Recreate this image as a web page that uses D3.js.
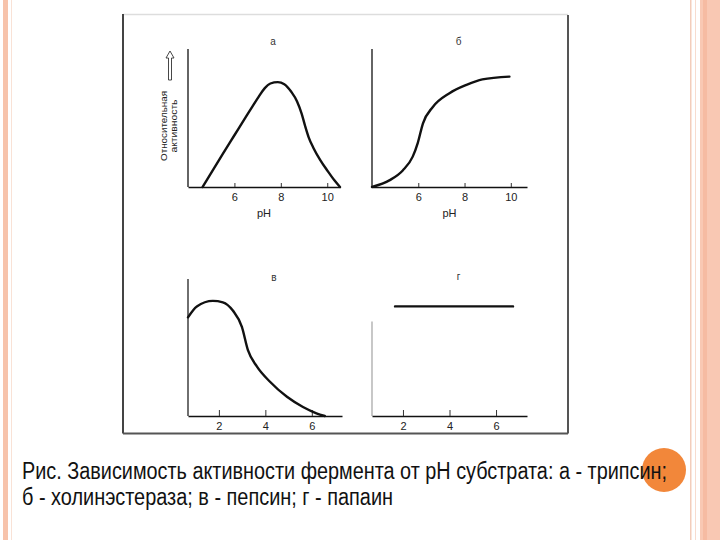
<!DOCTYPE html>
<html>
<head>
<meta charset="utf-8">
<script src="https://cdn.jsdelivr.net/npm/d3@7"></script>
<style>
  body { margin: 0; background: #ffffff; }
  svg { display: block; }
</style>
</head>
<body>
<div id="chart"></div>
<script>
// curve data (pH, relative activity)
const phA = [4.63, 5.5, 6.0, 6.5, 6.8, 7.05, 7.3, 7.55, 7.87, 8.15, 8.45, 8.7, 8.9, 9.05, 9.2, 9.4, 9.7, 10.0, 10.3, 10.55];
const actA = [0, 0.24, 0.375, 0.51, 0.59, 0.655, 0.715, 0.75, 0.76, 0.745, 0.69, 0.62, 0.53, 0.44, 0.36, 0.285, 0.195, 0.12, 0.05, 0];

const phB = [4.0, 4.77, 5.33, 5.76, 5.98, 6.2, 6.63, 7.35, 8.08, 8.77, 9.94];
const actB = [0, 0.05, 0.12, 0.22, 0.32, 0.46, 0.58, 0.68, 0.74, 0.78, 0.8];

const phV = [0.67, 1.05, 1.74, 2.17, 2.6, 2.99, 3.25, 3.64, 4.2, 4.93, 5.62, 6.2, 6.56];
const actV = [0.72, 0.8, 0.84, 0.83, 0.77, 0.65, 0.48, 0.36, 0.25, 0.14, 0.066, 0.02, 0];

const phG = [1.66, 6.73];
const actG = [0.8, 0.8];

const ticksTop = [6, 8, 10];
const ticksBottom = [2, 4, 6];
const titles = ["а", "б", "в", "г"];
const xLabel = "pH";
const yLabel = ["Относительная", "активность"];
const caption = [
  "Рис. Зависимость активности фермента от рН субстрата: а - трипсин;",
  "б - холинэстераза; в - пепсин; г - папаин"
];

const width = 720, height = 540;

const svg = d3.select("#chart").append("svg")
  .attr("width", width)
  .attr("height", height);

// slide decoration: peach borders
svg.append("rect").attr("x", 3).attr("y", 0).attr("width", 5).attr("height", height).attr("fill", "#f7c3ab");
svg.append("rect").attr("x", 11).attr("y", 0).attr("width", 1).attr("height", height).attr("fill", "#f9e2d6");
svg.append("rect").attr("x", 690).attr("y", 0).attr("width", 1.5).attr("height", height).attr("fill", "#f3cdbb");
svg.append("rect").attr("x", 695).attr("y", 0).attr("width", 1).attr("height", height).attr("fill", "#f7dccf");
svg.append("rect").attr("x", 700).attr("y", 0).attr("width", 20).attr("height", height).attr("fill", "#f9c8b3");
svg.append("rect").attr("x", 703).attr("y", 0).attr("width", 4).attr("height", height).attr("fill", "#f6bba2");

// picture frame
svg.append("line").attr("x1", 123).attr("x2", 568).attr("y1", 14.5).attr("y2", 14.5)
  .attr("stroke", "#dddddd").attr("stroke-width", 1.5);
svg.append("line").attr("x1", 123).attr("x2", 123).attr("y1", 14).attr("y2", 433.5)
  .attr("stroke", "#444444").attr("stroke-width", 2);
svg.append("line").attr("x1", 568).attr("x2", 568).attr("y1", 15).attr("y2", 433.5)
  .attr("stroke", "#555555").attr("stroke-width", 2);
svg.append("line").attr("x1", 123).attr("x2", 568).attr("y1", 433.5).attr("y2", 433.5)
  .attr("stroke", "#555555").attr("stroke-width", 2);

const panels = [
  { ph: phA, act: actA, dom: [4, 10.55], rx: [188, 340], ry: [187, 49], yTop: 1, ticks: ticksTop, title: titles[0], titleY: 45, showX: true, yColor: "#111" },
  { ph: phB, act: actB, dom: [4, 10.7], rx: [372, 527], ry: [187, 49], yTop: 1, ticks: ticksTop, title: titles[1], titleY: 45, showX: true, yColor: "#111" },
  { ph: phV, act: actV, dom: [0.67, 7.3], rx: [188, 342], ry: [416, 279], yTop: 1, ticks: ticksBottom, title: titles[2], titleY: 281, showX: false, yColor: "#222" },
  { ph: phG, act: actG, dom: [0.67, 7.33], rx: [372, 527], ry: [416, 279], yTop: 0.69, ticks: ticksBottom, title: titles[3], titleY: 280, showX: false, yColor: "#aaaaaa" }
];

panels.forEach((p) => {
  const x = d3.scaleLinear().domain(p.dom).range(p.rx);
  const y = d3.scaleLinear().domain([0, 1]).range(p.ry);
  const g = svg.append("g");

  // y axis (plain line)
  g.append("line")
    .attr("x1", x(p.dom[0])).attr("x2", x(p.dom[0]))
    .attr("y1", y(0)).attr("y2", y(p.yTop))
    .attr("stroke", p.yColor).attr("stroke-width", 1.3);

  // x axis with upward ticks
  const axis = g.append("g")
    .attr("transform", `translate(0,${y(0)})`)
    .call(d3.axisBottom(x)
      .tickValues(p.ticks)
      .tickSizeInner(p.showX ? -4 : -6)
      .tickSizeOuter(0)
      .tickPadding(6)
      .tickFormat(d3.format("d")));
  axis.select(".domain").attr("stroke", "#111").attr("stroke-width", 1.3);
  axis.selectAll(".tick line").attr("stroke", "#333").attr("stroke-width", 1);
  axis.selectAll(".tick text")
    .attr("fill", "#222")
    .style("font-family", "'Liberation Sans', Arial, sans-serif")
    .style("font-size", "11px");

  if (p.showX) {
    g.append("text")
      .attr("x", d3.mean(p.rx))
      .attr("y", y(0) + 30)
      .attr("text-anchor", "middle")
      .attr("fill", "#222")
      .style("font-family", "'Liberation Sans', Arial, sans-serif")
      .style("font-size", "11px")
      .text(xLabel);
  }

  g.append("text")
    .attr("x", d3.mean(p.rx) + 9)
    .attr("y", p.titleY)
    .attr("text-anchor", "middle")
    .attr("fill", "#333")
    .style("font-family", "'Liberation Sans', Arial, sans-serif")
    .style("font-size", "10px")
    .text(p.title);

  const pts = p.ph.map((v, i) => [v, p.act[i]]);
  const line = d3.line()
    .x((d) => x(d[0]))
    .y((d) => y(d[1]))
    .curve(d3.curveMonotoneX);

  g.append("path")
    .datum(pts)
    .attr("d", line)
    .attr("fill", "none")
    .attr("stroke", "#111")
    .attr("stroke-width", 2.4)
    .attr("stroke-linecap", "round");
});

// y axis label of panel a (rotated, two lines)
const yl = svg.append("g").attr("transform", "translate(167,126) rotate(-90)");
yl.selectAll("text")
  .data(yLabel)
  .enter()
  .append("text")
  .attr("x", 0)
  .attr("y", (d, i) => i * 10)
  .attr("text-anchor", "middle")
  .attr("fill", "#222")
  .attr("textLength", (d, i) => (i === 0 ? 70 : 53))
  .attr("lengthAdjust", "spacingAndGlyphs")
  .style("font-family", "'Liberation Sans', Arial, sans-serif")
  .style("font-size", "9px")
  .text((d) => d);

// hollow arrow above the label
svg.append("path")
  .attr("d", "M168.5,80 L168.5,58 L166,58 L170,51 L174,58 L171.5,58 L171.5,80 Z")
  .attr("fill", "#fff")
  .attr("stroke", "#333")
  .attr("stroke-width", 0.9);

// orange slide bullet
svg.append("circle")
  .attr("cx", 664).attr("cy", 470).attr("r", 22)
  .attr("fill", "#f2873a");

// caption
svg.selectAll(".caption")
  .data(caption)
  .enter()
  .append("text")
  .attr("class", "caption")
  .attr("x", 22)
  .attr("y", (d, i) => 479 + i * 26)
  .attr("fill", "#111")
  .attr("textLength", (d, i) => (i === 0 ? 645 : 371))
  .attr("lengthAdjust", "spacingAndGlyphs")
  .style("font-family", "'Liberation Sans Narrow', 'Liberation Sans', Arial, sans-serif")
  .style("font-size", "23px")
  .text((d) => d);
</script>
</body>
</html>
